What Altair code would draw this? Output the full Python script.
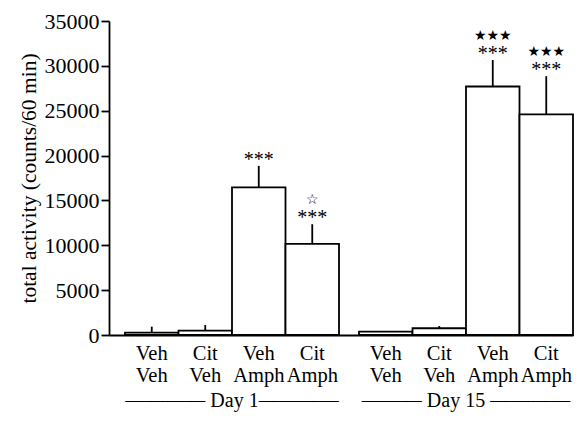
import altair as alt
import pandas as pd

days = ["Day 1"] * 4 + ["Day 15"] * 4
treatments = ["Veh|Veh", "Cit|Veh", "Veh|Amph", "Cit|Amph"] * 2
means = [260, 480, 16450, 10150, 370, 750, 27700, 24600]
uppers = [930, 1110, 18850, 12350, 420, 1000, 30650, 28850]
asterisks = ["", "", "***", "***", "", "", "***", "***"]
stars = ["", "", "", "☆", "", "", "★★★", "★★★"]
y_ticks = [0, 5000, 10000, 15000, 20000, 25000, 30000, 35000]

df = pd.DataFrame({
    "day": days,
    "treatment": treatments,
    "mean": means,
    "upper": uppers,
    "ast": asterisks,
    "star": stars,
})

treat_order = ["Veh|Veh", "Cit|Veh", "Veh|Amph", "Cit|Amph"]
SERIF = "Liberation Serif"

x_enc = alt.X(
    "day:N",
    sort=["Day 1", "Day 15"],
    scale=alt.Scale(paddingInner=0.0855, paddingOuter=0.0342, align=1),
    axis=alt.Axis(
        title=None,
        ticks=False,
        domain=True,
        domainColor="black",
        domainWidth=1.8,
        labelAngle=0,
        labelPadding=55,
        labelLimit=0,
        labelFont=SERIF,
        labelFontSize=20,
        labelColor="black",
        labelExpr="datum.label == 'Day 1' ? '———— Day 1————' : '——— Day 15 ————'",
    ),
)
xo_enc = alt.XOffset("treatment:N", sort=treat_order,
                     scale=alt.Scale(paddingInner=0, paddingOuter=0))
y_scale = alt.Scale(domain=[0, 35000], nice=False)

base = alt.Chart(df).encode(x=x_enc, xOffset=xo_enc)

bars = base.mark_bar(fill="white", stroke="black", strokeWidth=1.8).encode(
    y=alt.Y(
        "mean:Q",
        scale=y_scale,
        axis=alt.Axis(
            values=y_ticks,
            title="total activity (counts/60 min)",
            titleFont=SERIF,
            titleFontSize=21.5,
            titleFontWeight="normal",
            titleColor="black",
            titlePadding=4,
            labelFont=SERIF,
            labelFontSize=22,
            labelColor="black",
            labelPadding=2,
            tickSize=8,
            tickWidth=1.8,
            tickColor="black",
            domainColor="black",
            domainWidth=1.8,
            grid=False,
            format="d",
        ),
    )
)

err = base.mark_rule(stroke="black", strokeWidth=1.8).encode(
    y=alt.Y("mean:Q", scale=y_scale), y2="upper:Q"
)

ast = base.mark_text(font=SERIF, fontSize=20, baseline="alphabetic", dy=0,
                     color="black").encode(
    y=alt.Y("upper:Q", scale=y_scale), text="ast:N"
)

st = base.mark_text(font="DejaVu Sans", fontSize=14, fontWeight="bold",
                    baseline="middle", dy=-24, color="black").encode(
    y=alt.Y("upper:Q", scale=y_scale), text="star:N"
)

lbl = base.mark_text(font=SERIF, fontSize=20.5, baseline="alphabetic", dy=25,
                     lineBreak="|", lineHeight=22, color="black").encode(
    y=alt.datum(0), text="treatment:N"
)

chart = (
    alt.layer(bars, err, ast, st, lbl)
    .properties(
        width=464,
        height=314,
        padding={"left": 101, "top": 13, "right": 2, "bottom": 78},
        autosize=alt.AutoSizeParams(type="none"),
    )
    .configure_view(stroke=None)
)

chart.save("out.html", embed_options={"renderer": "svg", "actions": False})
